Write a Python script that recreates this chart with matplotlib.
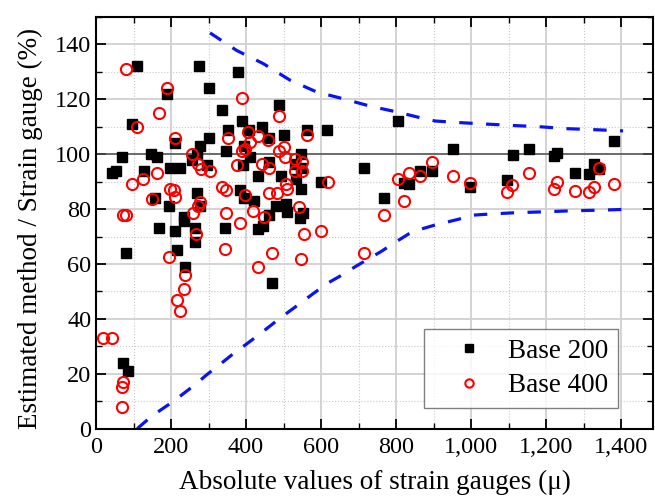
import numpy as np
import matplotlib
matplotlib.use("Agg")
import matplotlib.pyplot as plt
from matplotlib.ticker import MultipleLocator, FuncFormatter

plt.rcParams['font.family'] = ['Liberation Serif', 'DejaVu Serif']

# Base 200 gauge comparisons (strain, ratio %)
base200_x = [108, 275, 378, 300, 188, 335, 487, 97, 389, 352, 442, 408, 460, 302,
             211, 277, 268, 255, 68, 147, 163, 42, 53, 127, 197, 224, 347, 395,
             411, 391, 460, 295, 433, 492, 268, 157, 195, 384, 394, 420, 481, 460,
             235, 277, 169, 211, 235, 265, 265, 345, 433, 446, 79, 217, 236, 469,
             72, 84, 502, 562, 617, 806, 953, 547, 531, 546, 533, 600, 715, 822,
             835, 864, 895, 546, 769, 507, 510, 553, 544, 997, 1111, 1155, 1095,
             1220, 1230, 1277, 1315, 1328, 1340, 1382]
base200_y = [132, 132, 130, 124, 122, 116, 118, 111, 112, 109, 110, 109, 106, 106,
             104, 103, 100, 98, 99, 100, 99, 93, 94, 94, 95, 95, 101, 103,
             99, 96, 97, 96, 92, 92, 86, 84, 81, 87, 84, 83, 81, 78,
             77, 81, 73, 72, 75.6, 73, 68, 73, 72.6, 74, 64, 65, 59, 53,
             24, 21, 107, 109, 109, 112, 102, 100, 96.6, 95, 91, 90, 95, 89.6,
             89, 94, 94, 87.5, 84, 82, 79, 78.4, 76.6, 88, 99.6, 102, 90.5,
             99.4, 100.6, 93.3, 92.7, 96.6, 94.5, 104.7]

# Base 400 gauge comparisons
base400_x = [81, 188, 389, 169, 108, 352, 406, 433, 411, 458, 489, 489, 211, 255,
             273, 279, 304, 389, 397, 375, 442, 461, 163, 126, 97, 197, 207, 211,
             148, 335, 347, 397, 461, 483, 277, 273, 259, 347, 418, 73, 80, 448,
             266, 384, 195, 345, 433, 469, 236, 234, 217, 224, 18, 42, 73, 68,
             68, 502, 504, 562, 531, 548, 548, 531, 507, 508, 618, 806, 835, 864,
             895, 953, 821, 542, 769, 555, 600, 546, 715, 997, 1097, 1110, 1155,
             1220, 1228, 1277, 1315, 1328, 1340, 1382]
base400_y = [131, 124, 120.5, 115, 110, 106, 108, 106.5, 104.5, 105, 114, 101, 106, 100,
             96.5, 94.5, 94, 101, 102, 96, 96.5, 95, 93, 91, 89, 87.5, 87, 84.5,
             83.6, 88, 87, 85, 85.7, 86, 82.7, 81, 78.4, 78.4, 79.4, 78, 78, 77,
             71, 75, 62.4, 65.5, 59, 64, 56, 51, 47, 43, 33, 33, 17, 15,
             8, 102.7, 99, 107, 98.4, 97, 94, 94, 89, 87.5, 90, 91, 93, 92,
             97, 92, 83, 80.6, 78, 70.8, 72, 61.7, 64, 89.6, 86.3, 88.7, 93,
             87.2, 90, 86.7, 86.3, 87.9, 94.8, 89.3]

# upper and lower bounds
upper_x = [304, 375, 446, 517, 588, 659, 731, 802, 873, 904, 971, 1051, 1122, 1184,
           1255, 1317, 1405]
upper_y = [144.2, 137.8, 133, 127, 122.7, 120.2, 117.5, 115.4, 113, 112.1, 111.5,
           110.9, 110.4, 110, 109.3, 109, 108.5]
lower_x = [110, 148, 193, 224, 264, 295, 335, 366, 402, 437, 477, 508, 548, 580, 620,
           651, 691, 722, 762, 793, 833, 864, 904, 940, 975, 1006, 1051, 1122, 1193,
           1273, 1344, 1435]
lower_y = [0, 4.5, 8.7, 11.8, 16, 19.6, 23.9, 27.3, 30.9, 34.5, 38.8, 42, 46, 49.3,
           53.2, 55.6, 59, 61.5, 64.7, 67.5, 70.9, 72.6, 74.2, 75.4, 76.6, 77.8, 78.2,
           78.7, 79, 79.4, 79.6, 80]

fig = plt.figure(figsize=(6.55, 5.0), dpi=100)
ax = fig.add_axes([0.1466, 0.1428, 0.8504, 0.8232])

ax.set_xlim(0, 1485)
ax.set_ylim(0, 150)
ax.xaxis.set_major_locator(MultipleLocator(200))
ax.xaxis.set_minor_locator(MultipleLocator(100))
ax.yaxis.set_major_locator(MultipleLocator(20))
ax.yaxis.set_minor_locator(MultipleLocator(10))
ax.xaxis.set_major_formatter(FuncFormatter(lambda v, p: f"{int(v):,}"))

ax.grid(which='major', color='#d0d0d0', linewidth=1.3, linestyle='-')
ax.grid(which='minor', color='#c8c8c8', linewidth=0.8, linestyle=':')
ax.set_axisbelow(True)
ax.axhline(100, color='#505050', linewidth=1.1, zorder=1)

ax.plot(upper_x, upper_y, color='#0a14f0', lw=2.3, ls=(0, (4.2, 4.2)), zorder=2)
ax.plot(lower_x, lower_y, color='#0a14f0', lw=2.3, ls=(0, (4.2, 4.2)), zorder=2)

ax.plot(base200_x, base200_y, ls='none', marker='s', ms=7, color='black',
        label='Base 200', zorder=3)
ax.plot(base400_x, base400_y, ls='none', marker='o', ms=8, mfc='none', mec='red',
        mew=1.5, label='Base 400', zorder=4)

ax.tick_params(which='both', direction='in', top=True, right=True, labelsize=17.5)
ax.tick_params(which='major', length=7, width=1.3)
ax.tick_params(which='minor', length=4, width=1)
ax.tick_params(axis='x', pad=6)
for s in ax.spines.values():
    s.set_linewidth(1.5)

ax.set_xlabel('Absolute values of strain gauges (μ)', fontsize=19.5)
ax.xaxis.set_label_coords(0.5, -0.1)
ax.set_ylabel('Estimated method / Strain gauge (%)', fontsize=19.5)
ax.yaxis.set_label_coords(-0.095, 0.486)

leg = ax.legend(loc='lower right', bbox_to_anchor=(0.937, 0.051), borderaxespad=0,
                fontsize=19.5, markerscale=0.75, frameon=True, fancybox=False,
                handlelength=2.6, handletextpad=0.15, borderpad=0.35,
                labelspacing=0.35)
leg.get_frame().set_edgecolor('#606060')
leg.get_frame().set_linewidth(1.0)

fig.savefig('out.png', dpi=100)
